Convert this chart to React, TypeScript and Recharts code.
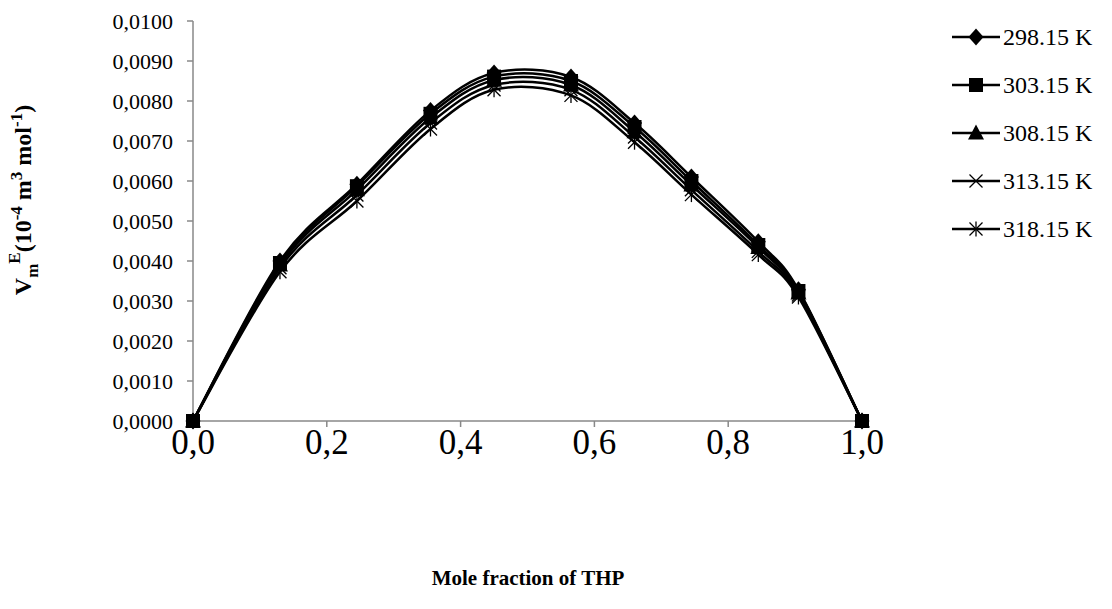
import React from 'react';
import { LineChart, Line, XAxis, YAxis, Label } from 'recharts';

const xValues = [0, 0.13, 0.245, 0.355, 0.45, 0.565, 0.66, 0.745, 0.845, 0.905, 1.0];
const seriesNames = ['298.15 K', '303.15 K', '308.15 K', '313.15 K', '318.15 K'];
const v298 = [0, 0.00400, 0.00592, 0.00776, 0.00870, 0.00860, 0.00745, 0.00610, 0.00448, 0.00328, 0];
const v303 = [0, 0.00395, 0.00587, 0.00768, 0.00861, 0.00850, 0.00735, 0.00600, 0.00440, 0.00325, 0];
const v308 = [0, 0.00390, 0.00578, 0.00758, 0.00852, 0.00840, 0.00723, 0.00590, 0.00434, 0.00320, 0];
const v313 = [0, 0.00383, 0.00565, 0.00745, 0.00840, 0.00828, 0.00710, 0.00578, 0.00424, 0.00315, 0];
const v318 = [0, 0.00373, 0.00550, 0.00730, 0.00828, 0.00814, 0.00697, 0.00566, 0.00416, 0.00310, 0];
const xTicks = [0, 0.2, 0.4, 0.6, 0.8, 1.0];
const yTicks = [0, 0.001, 0.002, 0.003, 0.004, 0.005, 0.006, 0.007, 0.008, 0.009, 0.01];

const allSeries = [v298, v303, v308, v313, v318];
const data = xValues.map((x, i) => {
  const row: any = { x };
  allSeries.forEach((s, k) => { row['s' + k] = s[i]; });
  return row;
});

const FONT = '"Liberation Serif", "Times New Roman", serif';
const AXIS = '#888888';

const excelCurve = (context: any) => {
  let pts: number[][] = [];
  return {
    areaStart() {},
    areaEnd() {},
    lineStart() { pts = []; },
    lineEnd() {
      const n = pts.length;
      if (!n) return;
      context.moveTo(pts[0][0], pts[0][1]);
      for (let i = 0; i < n - 1; i++) {
        const p0 = pts[i - 1] || pts[i];
        const p1 = pts[i];
        const p2 = pts[i + 1];
        const p3 = pts[i + 2] || p2;
        context.bezierCurveTo(
          p1[0] + (p2[0] - p0[0]) / 6, p1[1] + (p2[1] - p0[1]) / 6,
          p2[0] - (p3[0] - p1[0]) / 6, p2[1] - (p3[1] - p1[1]) / 6,
          p2[0], p2[1]
        );
      }
    },
    point(x: number, y: number) { pts.push([+x, +y]); },
  };
};

const drawMarker = (k: number, cx: number, cy: number, key?: any) => {
  switch (k) {
    case 0:
      return <polygon key={key} points={`${cx},${cy - 8.5} ${cx + 7.5},${cy} ${cx},${cy + 8.5} ${cx - 7.5},${cy}`} fill="#000" />;
    case 1:
      return <rect key={key} x={cx - 7} y={cy - 7} width={14} height={14} fill="#000" />;
    case 2:
      return <polygon key={key} points={`${cx},${cy - 8.5} ${cx + 8},${cy + 6.5} ${cx - 8},${cy + 6.5}`} fill="#000" />;
    case 3:
      return (
        <g key={key} stroke="#000" strokeWidth={1.3}>
          <line x1={cx - 6.5} y1={cy - 6.5} x2={cx + 6.5} y2={cy + 6.5} />
          <line x1={cx - 6.5} y1={cy + 6.5} x2={cx + 6.5} y2={cy - 6.5} />
        </g>
      );
    default:
      return (
        <g key={key} stroke="#000" strokeWidth={1.3}>
          <line x1={cx - 6.5} y1={cy - 6.5} x2={cx + 6.5} y2={cy + 6.5} />
          <line x1={cx - 6.5} y1={cy + 6.5} x2={cx + 6.5} y2={cy - 6.5} />
          <line x1={cx} y1={cy - 7.5} x2={cx} y2={cy + 7.5} />
        </g>
      );
  }
};

const makeDot = (k: number) => (props: any) => {
  const { cx, cy, index } = props;
  if (cx == null || cy == null) return <g key={`d${k}-${index}`} />;
  return drawMarker(k, cx, cy, `d${k}-${index}`);
};

const LegendBox = () => (
  <div style={{ position: 'absolute', left: 950, top: 13, width: 162, fontFamily: FONT, fontSize: 24, color: '#000' }}>
    {seriesNames.map((name, k) => (
      <div key={name} style={{ display: 'flex', alignItems: 'center', height: 48 }}>
        <svg width={52} height={20} style={{ display: 'block' }}>
          <line x1={2} y1={10} x2={50} y2={10} stroke="#000" strokeWidth={2.5} />
          {drawMarker(k, 26, 10)}
        </svg>
        <span style={{ marginLeft: 1, whiteSpace: 'nowrap' }}>{name}</span>
      </div>
    ))}
  </div>
);

const YTitle = () => {
  const cx = 31;
  const cy = 200;
  return (
    <text
      transform={`translate(${cx},${cy}) rotate(-90)`}
      textAnchor="middle"
      fontFamily={FONT}
      fontWeight="bold"
      fontSize={24}
      fill="#000"
    >
      <tspan>V</tspan>
      <tspan fontSize={17} dy={7}>m</tspan>
      <tspan fontSize={17} dy={-18}>E</tspan>
      <tspan dy={11}>(10</tspan>
      <tspan fontSize={17} dy={-9}>-4</tspan>
      <tspan dy={9}>{'  '}m</tspan>
      <tspan fontSize={17} dy={-9}>3</tspan>
      <tspan dy={9}> mol</tspan>
      <tspan fontSize={17} dy={-9}>-1</tspan>
      <tspan dy={9}>)</tspan>
    </text>
  );
};

const XTitle = () => (
  <text x={528} y={585} textAnchor="middle" fontFamily={FONT} fontWeight="bold" fontSize={21} fill="#000">
    Mole fraction of THP
  </text>
);

export default function App() {
  return (
    <div style={{ position: 'absolute', left: 0, top: 0, width: 1112, height: 609, background: '#fff' }}>
      <LineChart
        width={1112}
        height={609}
        data={data}
        margin={{ top: 21, right: 250, bottom: 148, left: 103 }}
      >
        <XAxis
          dataKey="x"
          type="number"
          domain={[0, 1]}
          ticks={xTicks}
          tickFormatter={(v: number) => v.toFixed(1).replace('.', ',')}
          stroke={AXIS}
          strokeWidth={1.5}
          tickSize={6}
          tickMargin={2}
          height={40}
          tick={{ fontFamily: FONT, fontSize: 35, fill: '#000' }}
          tickLine={{ stroke: AXIS }}
        >
          <Label content={XTitle} />
        </XAxis>
        <YAxis
          type="number"
          domain={[0, 0.01]}
          ticks={yTicks}
          tickFormatter={(v: number) => v.toFixed(4).replace('.', ',')}
          stroke={AXIS}
          strokeWidth={1.5}
          tickSize={6}
          tickMargin={14}
          width={90}
          interval={0}
          tick={{ fontFamily: FONT, fontSize: 22, fill: '#000' }}
          tickLine={{ stroke: AXIS }}
        >
          <Label content={YTitle} />
        </YAxis>
        {allSeries.map((_, k) => (
          <Line
            key={k}
            dataKey={'s' + k}
            name={seriesNames[k]}
            type={excelCurve as any}
            stroke="#000"
            strokeWidth={2.5}
            dot={makeDot(k)}
            activeDot={false}
            isAnimationActive={false}
          />
        ))}
      </LineChart>
      <LegendBox />
    </div>
  );
}
